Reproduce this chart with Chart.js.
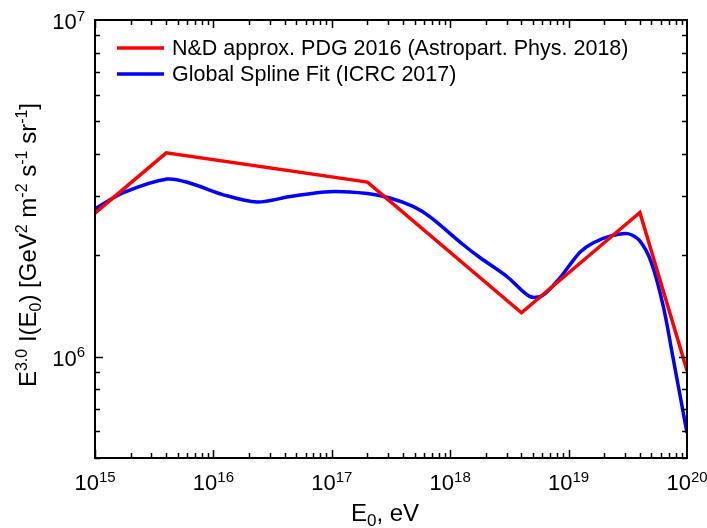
<!DOCTYPE html>
<html>
<head>
<meta charset="utf-8">
<script src="https://cdn.jsdelivr.net/npm/chart.js@4"></script>
<style>
  html, body { margin: 0; padding: 0; background: #fff; }
  canvas { display: block; }
</style>
</head>
<body>
<canvas id="spectrum" width="707" height="528"></canvas>
<script>
// energies in eV, intensities E^3 I(E)

var redLabel = 'N&D approx. PDG 2016 (Astropart. Phys. 2018)';
var redE = [1e15, 4e15, 2e17, 4e18, 4e19, 1e20];
var redI = [2.67e6, 4.03e6, 3.3e6, 1.35e6, 2.68e6, 9.1e5];

var blueLabel = 'Global Spline Fit (ICRC 2017)';
var blueE = [1e15, 1.74e15, 4.07e15, 6.31e15, 1.2e16, 2.34e16, 4.47e16, 9.55e16, 2.0e17, 3.09e17,
             4.9e17, 6.76e17, 1.29e18, 1.78e18, 3.02e18, 4.68e18, 6.03e18, 8.51e18, 1.02e19, 1.26e19,
             1.62e19, 2.24e19, 3.16e19, 3.98e19, 5.01e19, 6.31e19, 7.59e19, 1e20];
var blueI = [2.75e6, 3.07e6, 3.37e6, 3.28e6, 3.03e6, 2.88e6, 2.99e6, 3.09e6, 3.05e6, 2.96e6,
             2.79e6, 2.60e6, 2.15e6, 1.97e6, 1.73e6, 1.51e6, 1.52e6, 1.72e6, 1.87e6, 2.05e6,
             2.18e6, 2.28e6, 2.32e6, 2.21e6, 1.90e6, 1.41e6, 1.0e6, 5.94e5];

// tick labels are powers of ten
var xTickExps = [15, 16, 17, 18, 19, 20];
var yTickExps = [6, 7];

var FONT = '"Liberation Sans", Arial, sans-serif';

function pts(xs, ys) {
  return xs.map(function (x, i) { return { x: x, y: ys[i] }; });
}

// text with super/subscripts: parts = [[text, 'n'|'sup'|'sub'], ...]
function richWidth(ctx, parts, size, small) {
  var w = 0;
  parts.forEach(function (p) {
    ctx.font = (p[1] === 'n' ? size : small) + 'px ' + FONT;
    w += ctx.measureText(p[0]).width;
  });
  return w;
}
function drawRich(ctx, x, y, parts, size, small, align) {
  var w = richWidth(ctx, parts, size, small);
  var cx = align === 'center' ? x - w / 2 : (align === 'right' ? x - w : x);
  ctx.textAlign = 'left';
  ctx.textBaseline = 'alphabetic';
  parts.forEach(function (p) {
    ctx.font = (p[1] === 'n' ? size : small) + 'px ' + FONT;
    var dy = p[1] === 'sup' ? -size * 0.38 : (p[1] === 'sub' ? size * 0.22 : 0);
    ctx.fillText(p[0], cx, y + dy);
    cx += ctx.measureText(p[0]).width;
  });
}

var frameAndText = {
  id: 'frameAndText',
  afterDatasetsDraw: function (chart) {
    var ctx = chart.ctx;
    var a = chart.chartArea;
    var xs = chart.scales.x, ys = chart.scales.y;
    ctx.save();
    ctx.strokeStyle = '#000';
    ctx.fillStyle = '#000';

    // frame
    ctx.lineWidth = 2;
    ctx.strokeRect(a.left, a.top, a.right - a.left, a.bottom - a.top);

    // inward ticks on all four sides
    ctx.lineWidth = 1.5;
    ctx.beginPath();
    for (var d = 15; d < 20; d++) {
      for (var m = 1; m <= 9; m++) {
        var px = Math.round(xs.getPixelForValue(m * Math.pow(10, d))) + 0.5;
        var len = m === 1 ? 8 : 5;
        ctx.moveTo(px, a.bottom); ctx.lineTo(px, a.bottom - len);
        ctx.moveTo(px, a.top); ctx.lineTo(px, a.top + len);
      }
    }
    [5e5, 6e5, 7e5, 8e5, 9e5, 1e6, 2e6, 3e6, 4e6, 5e6, 6e6, 7e6, 8e6, 9e6].forEach(function (v) {
      var py = Math.round(ys.getPixelForValue(v)) + 0.5;
      var len = v === 1e6 ? 8 : 5;
      ctx.moveTo(a.left, py); ctx.lineTo(a.left + len, py);
      ctx.moveTo(a.right, py); ctx.lineTo(a.right - len, py);
    });
    ctx.stroke();

    // tick labels
    xTickExps.forEach(function (e) {
      var px = xs.getPixelForValue(Math.pow(10, e));
      drawRich(ctx, px, a.bottom + 32, [['10', 'n'], [String(e), 'sup']], 22, 15, 'center');
    });
    yTickExps.forEach(function (e) {
      var py = ys.getPixelForValue(Math.pow(10, e));
      drawRich(ctx, a.left - 10, py + 9, [['10', 'n'], [String(e), 'sup']], 22, 15, 'right');
    });

    // axis titles
    drawRich(ctx, (a.left + a.right) / 2 - 6, 521,
      [['E', 'n'], ['0', 'sub'], [', eV', 'n']], 24, 17, 'center');
    ctx.save();
    ctx.translate(36, (a.top + a.bottom) / 2 + 6);
    ctx.rotate(-Math.PI / 2);
    drawRich(ctx, 0, 0, [
      ['E', 'n'], ['3.0', 'sup'], [' I(E', 'n'], ['0', 'sub'], [') [GeV', 'n'], ['2', 'sup'],
      [' m', 'n'], ['-2', 'sup'], [' s', 'n'], ['-1', 'sup'], [' sr', 'n'], ['-1', 'sup'], [']', 'n']
    ], 24, 16, 'center');
    ctx.restore();

    // legend inside the plot
    var rows = [[redLabel, 'rgb(255, 0, 0)', 48], [blueLabel, 'rgb(0, 0, 255)', 74]];
    rows.forEach(function (r) {
      ctx.strokeStyle = r[1];
      ctx.lineWidth = 3.5;
      ctx.beginPath();
      ctx.moveTo(117, r[2]); ctx.lineTo(164, r[2]);
      ctx.stroke();
      ctx.fillStyle = '#000';
      ctx.font = '21.5px ' + FONT;
      ctx.textAlign = 'left';
      ctx.textBaseline = 'middle';
      ctx.fillText(r[0], 172, r[2] + 1);
    });
    ctx.restore();
  }
};

var ctx = document.getElementById('spectrum').getContext('2d');
var chart = new Chart(ctx, {
  type: 'line',
  data: {
    datasets: [{
      label: redLabel,
      data: pts(redE, redI),
      borderColor: 'rgb(255, 0, 0)',
      borderWidth: 3.5,
      pointRadius: 0,
      tension: 0
    }, {
      label: blueLabel,
      data: pts(blueE, blueI),
      borderColor: 'rgb(0, 0, 255)',
      borderWidth: 3.5,
      pointRadius: 0,
      tension: 0.3
    }]
  },
  options: {
    responsive: false,
    animation: false,
    layout: { padding: { left: 95, top: 20, right: 20, bottom: 70 } },
    plugins: { legend: { display: false }, tooltip: { enabled: false } },
    scales: {
      x: { type: 'logarithmic', min: 1e15, max: 1e20, display: false },
      y: { type: 'logarithmic', min: 5e5, max: 1e7, display: false }
    }
  },
  plugins: [frameAndText]
});
</script>
</body>
</html>
